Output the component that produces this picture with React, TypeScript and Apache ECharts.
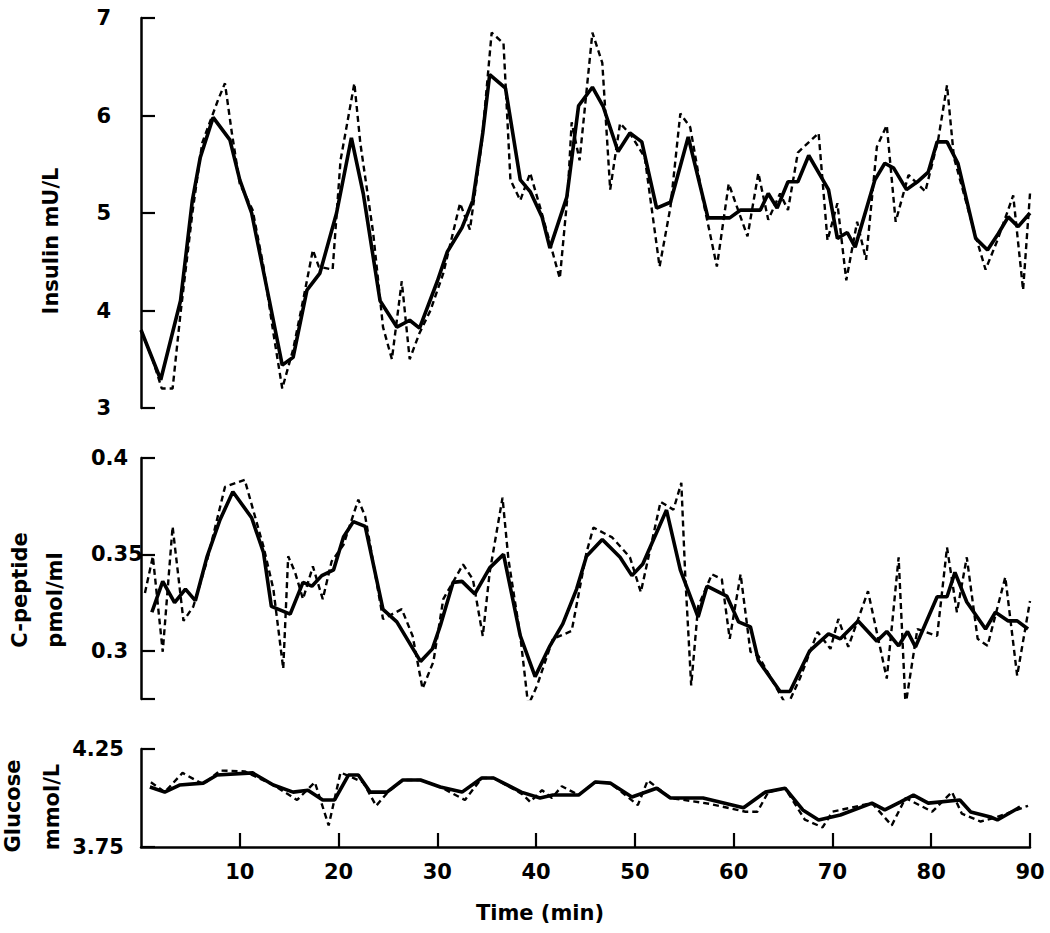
import React, { useEffect, useRef } from "react";
import * as echarts from "echarts";

// Time axis (min)
const timeTicks = [10, 20, 30, 40, 50, 60, 70, 80, 90];

// Insulin (mU/L): [time, value]
const insulinSmooth = [
  [0, 3.8], [2, 3.29], [4, 4.1], [5.2, 5.13], [6, 5.57], [7.3, 5.98], [9, 5.75], [10, 5.34],
  [11.2, 5.0], [13, 4.1], [14.3, 3.44], [15.4, 3.52], [16.8, 4.21], [18.1, 4.38], [19.8, 5.0],
  [21.3, 5.77], [22.5, 5.2], [24.2, 4.1], [25.9, 3.83], [27.2, 3.9], [28.2, 3.82], [30, 4.3],
  [31, 4.6], [32.5, 4.85], [33.6, 5.13], [34.6, 5.82], [35.3, 6.42], [36.9, 6.28], [38.4, 5.34],
  [39.4, 5.22], [40.6, 4.96], [41.4, 4.64], [43.1, 5.16], [44.3, 6.1], [45.7, 6.29], [46.8, 6.09],
  [48.3, 5.63], [49.5, 5.82], [50.7, 5.73], [52.2, 5.05], [53.6, 5.11], [55.4, 5.78], [57.4, 4.95],
  [59.6, 4.95], [60.7, 5.03], [62.7, 5.03], [63.5, 5.2], [64.4, 5.05], [65.5, 5.32], [66.5, 5.32],
  [67.6, 5.59], [69.6, 5.24], [70.5, 4.74], [71.5, 4.8], [72.3, 4.65], [74.3, 5.34], [75.3, 5.51],
  [76.2, 5.46], [77.5, 5.24], [78.6, 5.32], [79.7, 5.42], [80.6, 5.73], [81.6, 5.73], [82.7, 5.51],
  [84.5, 4.74], [85.7, 4.62], [86.8, 4.79], [87.8, 4.96], [88.8, 4.86], [90, 5.0],
];
const insulinRaw = [
  [0, 3.8], [1.2, 3.49], [2.1, 3.2], [3.2, 3.2], [4, 3.97], [5.2, 5.0], [6.2, 5.72], [7.8, 6.16],
  [8.5, 6.33], [9.2, 5.82], [10, 5.3], [11.3, 5.03], [12.4, 4.45], [13.4, 3.77], [14.3, 3.2],
  [15.4, 3.6], [16.4, 4.1], [17.4, 4.62], [18, 4.45], [19.4, 4.42], [20.2, 5.54], [21.6, 6.33],
  [22.2, 5.72], [23.5, 4.8], [24.5, 3.83], [25.4, 3.5], [26.4, 4.3], [27.2, 3.5], [28.2, 3.77],
  [29.3, 4.0], [30.6, 4.38], [32.3, 5.1], [33.3, 4.83], [34.5, 5.72], [35.5, 6.85], [36.7, 6.74],
  [37.4, 5.34], [38.4, 5.13], [39.4, 5.41], [40.4, 5.06], [42.4, 4.33], [43.2, 5.2], [43.6, 5.93],
  [44.4, 5.54], [45.7, 6.85], [46.7, 6.54], [47.5, 5.24], [48.5, 5.92], [49.6, 5.8], [51, 5.57],
  [52.5, 4.45], [53.6, 5.06], [54.6, 6.02], [55.6, 5.88], [56.9, 5.13], [58.3, 4.45], [59.5, 5.3],
  [61.4, 4.76], [62.5, 5.41], [63.5, 4.93], [64.7, 5.2], [65.5, 5.03], [66.5, 5.62], [68.6, 5.82],
  [69.5, 4.72], [70.5, 5.1], [71.4, 4.31], [72.5, 4.91], [73.4, 4.52], [74.5, 5.68], [75.5, 5.9],
  [76.4, 4.91], [77.7, 5.39], [79.4, 5.22], [80.7, 5.75], [81.6, 6.31], [82.3, 5.57], [84.3, 4.83],
  [85.5, 4.42], [86.7, 4.72], [88.3, 5.18], [89.3, 4.21], [90, 5.2],
];

// C-peptide (pmol/ml)
const cpepSmooth = [
  [1.1, 0.32], [2.2, 0.336], [3.4, 0.325], [4.5, 0.332], [5.5, 0.326], [6.7, 0.349], [8, 0.368],
  [9.3, 0.3825], [11.2, 0.369], [12.4, 0.351], [13.2, 0.323], [15.1, 0.319], [16.4, 0.3355],
  [17.3, 0.3335], [18.3, 0.339], [19.5, 0.342], [20.5, 0.359], [21.5, 0.367], [22.7, 0.3645],
  [24.5, 0.3215], [25.9, 0.315], [28.3, 0.2945], [29.5, 0.301], [30.3, 0.313], [31.6, 0.3355],
  [32.5, 0.336], [33.8, 0.3295], [35.3, 0.343], [36.7, 0.35], [38.4, 0.3077], [39.9, 0.2866],
  [41.4, 0.3026], [42.7, 0.314], [44.1, 0.332], [45.1, 0.349], [46.7, 0.3577], [48.5, 0.3485],
  [49.7, 0.339], [50.8, 0.345], [53.2, 0.373], [54.6, 0.342], [56.4, 0.3175], [57.3, 0.3335],
  [59.3, 0.3284], [60.5, 0.315], [61.7, 0.3124], [62.5, 0.295], [64.7, 0.2789], [65.7, 0.2789],
  [67.7, 0.3], [69.6, 0.3088], [70.8, 0.3062], [72.6, 0.3155], [74.5, 0.305], [75.5, 0.31],
  [76.7, 0.3026], [77.6, 0.31], [78.4, 0.302], [80.6, 0.328], [81.6, 0.328], [82.4, 0.3407],
  [83.6, 0.3253], [85.5, 0.3113], [86.5, 0.32], [87.8, 0.3155], [88.7, 0.3155], [89.8, 0.3113],
];
const cpepRaw = [
  [0.4, 0.33], [1.2, 0.349], [2.2, 0.2995], [3.2, 0.3644], [4.3, 0.3155], [5.3, 0.323],
  [6.7, 0.347], [8.5, 0.385], [10.5, 0.3887], [12.4, 0.354], [13.4, 0.332], [14.4, 0.2907],
  [14.9, 0.349], [15.6, 0.3407], [16.4, 0.3268], [17.4, 0.3438], [18.4, 0.3268], [19.3, 0.3464],
  [20.5, 0.355], [22, 0.3784], [22.7, 0.3696], [24.5, 0.3165], [26.4, 0.3216], [27.5, 0.3077],
  [28.5, 0.2804], [29.6, 0.2943], [30.6, 0.3268], [32.6, 0.3448], [33.6, 0.3371], [34.6, 0.3077],
  [35.3, 0.3407], [36.6, 0.3794], [37.2, 0.3474], [38.4, 0.3077], [39.2, 0.2716], [40.1, 0.282],
  [41.7, 0.3062], [43.6, 0.3103], [45.1, 0.351], [45.8, 0.3639], [47.7, 0.3588], [49.5, 0.3485],
  [50.6, 0.3304], [52.6, 0.3773], [53.9, 0.3732], [54.7, 0.3871], [55.1, 0.3387], [55.7, 0.282],
  [56.4, 0.323], [57.8, 0.3397], [58.8, 0.3371], [59.6, 0.3062], [60.7, 0.3397], [61.7, 0.2995],
  [62.5, 0.2974], [65.4, 0.2711], [66.7, 0.2856], [68.5, 0.3098], [69.8, 0.301], [70.6, 0.3165],
  [71.6, 0.302], [73.6, 0.3309], [75.5, 0.2856], [76.7, 0.3485], [77.4, 0.2716], [78.6, 0.3113],
  [80.6, 0.3077], [81.6, 0.3536], [82.6, 0.32], [83.6, 0.3485], [84.7, 0.3062], [85.7, 0.3026],
  [87.5, 0.3382], [88.7, 0.2871], [90, 0.3258],
];

// Glucose (mmol/L)
const glucoseSmooth = [
  [0.9, 4.056], [2.4, 4.03], [3.9, 4.066], [6.3, 4.076], [7.7, 4.117], [11.3, 4.128], [13.4, 4.066],
  [15.4, 4.03], [16.9, 4.04], [18.4, 3.99], [19.6, 3.99], [21, 4.117], [22, 4.117], [23.2, 4.03],
  [24.9, 4.03], [26.5, 4.092], [28.3, 4.092], [30.3, 4.056], [32.5, 4.03], [34.5, 4.102],
  [35.7, 4.102], [38.5, 4.03], [40.4, 4.0], [41.7, 4.015], [44.3, 4.015], [46, 4.082], [47.5, 4.076],
  [49.7, 4.005], [52.2, 4.05], [53.6, 4.0], [56.9, 4.0], [61, 3.95], [63.2, 4.03], [65.2, 4.05],
  [67, 3.939], [68.6, 3.888], [70.8, 3.913], [74, 3.974], [75.3, 3.939], [76.9, 3.98], [78.2, 4.015],
  [79.7, 3.974], [82.9, 3.99], [84, 3.929], [86, 3.903], [86.7, 3.888], [89, 3.954],
];
const glucoseRaw = [
  [1, 4.08], [2.4, 4.03], [4.2, 4.128], [6.3, 4.07], [8, 4.14], [10.5, 4.136], [13.4, 4.066],
  [15.8, 3.99], [17.6, 4.08], [19, 3.86], [20.2, 4.13], [22.5, 4.08], [23.8, 3.96], [25, 4.03],
  [26.5, 4.092], [28.3, 4.092], [30.3, 4.056], [32.8, 3.99], [34.5, 4.102], [35.7, 4.102],
  [38.6, 4.02], [39.4, 3.98], [40.6, 4.04], [41.6, 4.0], [42.6, 4.06], [44.3, 4.015], [46, 4.082],
  [47.5, 4.076], [50.3, 3.964], [51.3, 4.09], [53.6, 4.0], [57.6, 3.97], [61.2, 3.93], [62.4, 3.93],
  [63.5, 4.03], [65.2, 4.05], [67.2, 3.89], [69, 3.85], [70, 3.93], [74, 3.974], [76, 3.86],
  [77.4, 4.0], [80.1, 3.93], [82.1, 4.03], [83.1, 3.92], [85, 3.88], [86.5, 3.9], [89.8, 3.96],
];

const insulinTicks = [3, 4, 5, 6, 7];
const cpepTicks = [0.275, 0.3, 0.35, 0.4];
const cpepLabels = [0.3, 0.35, 0.4];
const glucoseTicks = [3.75, 4.25];

const FONT = "DejaVu Sans";
const txt = { fontFamily: FONT, fontWeight: "bold" as const, fontSize: 21, color: "#000" };

export default function App() {
  const ref = useRef<HTMLDivElement>(null);
  useEffect(() => {
    document.body.style.margin = "0";
    const chart = echarts.init(ref.current!, null, { renderer: "svg" });
    const axisLine = { show: true, lineStyle: { color: "#000", width: 2.5 } };
    const tick = { show: true, inside: true, length: 14, lineStyle: { color: "#000", width: 2.2 } };
    const hiddenX = (gi: number) => ({
      type: "value", gridIndex: gi, min: 0, max: 90, show: false,
    });
    const solid = (data: number[][], xi: number) => ({
      type: "line", xAxisIndex: xi, yAxisIndex: xi, data, symbol: "none",
      lineStyle: { color: "#000", width: 3.6 }, z: 3,
    });
    const dashed = (data: number[][], xi: number) => ({
      type: "line", xAxisIndex: xi, yAxisIndex: xi, data, symbol: "none",
      lineStyle: { color: "#000", width: 2.4, type: [6, 4] }, z: 2,
    });
    const fmt = (v: number) => String(Math.round(v * 100) / 100);
    chart.setOption({
      animation: false,
      backgroundColor: "#fff",
      grid: [
        { left: 141, top: 18, width: 889, height: 390 },
        { left: 141, top: 458, width: 889, height: 241 },
        { left: 141, top: 749, width: 889, height: 98 },
      ],
      xAxis: [
        hiddenX(0),
        hiddenX(1),
        {
          type: "value", gridIndex: 2, min: 0, max: 90,
          axisLine,
          axisTick: { ...tick, customValues: timeTicks },
          axisLabel: { ...txt, customValues: timeTicks, margin: 14 },
          splitLine: { show: false },
        },
      ],
      yAxis: [
        {
          type: "value", gridIndex: 0, min: 3, max: 7,
          axisLine,
          axisTick: { ...tick, customValues: insulinTicks },
          axisLabel: { ...txt, customValues: insulinTicks, margin: 30 },
          splitLine: { show: false },
        },
        {
          type: "value", gridIndex: 1, min: 0.275, max: 0.4,
          axisLine,
          axisTick: { ...tick, customValues: cpepTicks },
          axisLabel: { ...txt, customValues: cpepLabels, margin: 50, align: "left", formatter: fmt },
          splitLine: { show: false },
        },
        {
          type: "value", gridIndex: 2, min: 3.75, max: 4.25,
          axisLine,
          axisTick: { ...tick, customValues: glucoseTicks },
          axisLabel: { ...txt, customValues: glucoseTicks, margin: 17, formatter: (v: number) => v.toFixed(2) },
          splitLine: { show: false },
        },
      ],
      series: [
        dashed(insulinRaw, 0),
        solid(insulinSmooth, 0),
        dashed(cpepRaw, 1),
        solid(cpepSmooth, 1),
        dashed(glucoseRaw, 2),
        solid(glucoseSmooth, 2),
      ],
      graphic: [
        { type: "text", x: 51, y: 241, rotation: Math.PI / 2,
          style: { text: "Insulin mU/L", font: `bold 21px '${FONT}'`, fill: "#000", align: "center", verticalAlign: "middle" } },
        { type: "text", x: 20, y: 590, rotation: Math.PI / 2,
          style: { text: "C-peptide", font: `bold 21px '${FONT}'`, fill: "#000", align: "center", verticalAlign: "middle" } },
        { type: "text", x: 55, y: 600, rotation: Math.PI / 2,
          style: { text: "pmol/ml", font: `bold 21px '${FONT}'`, fill: "#000", align: "center", verticalAlign: "middle" } },
        { type: "text", x: 13, y: 806, rotation: Math.PI / 2,
          style: { text: "Glucose", font: `bold 21px '${FONT}'`, fill: "#000", align: "center", verticalAlign: "middle" } },
        { type: "text", x: 52, y: 807, rotation: Math.PI / 2,
          style: { text: "mmol/L", font: `bold 21px '${FONT}'`, fill: "#000", align: "center", verticalAlign: "middle" } },
        { type: "text", x: 540, y: 913,
          style: { text: "Time (min)", font: `bold 21px '${FONT}'`, fill: "#000", align: "center", verticalAlign: "middle" } },
      ],
    });
    return () => chart.dispose();
  }, []);
  return <div ref={ref} style={{ width: 1050, height: 933 }} />;
}
